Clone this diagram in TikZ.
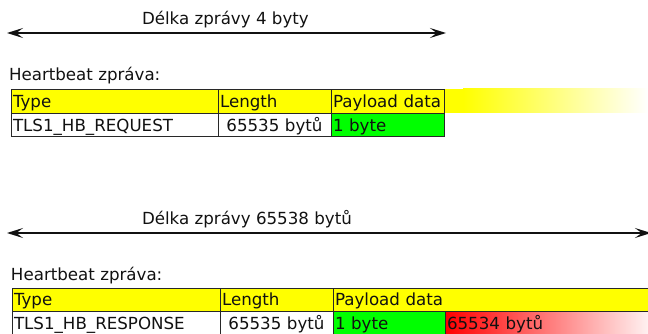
\documentclass[tikz,border=0pt]{standalone}
\usepackage{fontspec}
\setmainfont{DejaVu Sans}
\usetikzlibrary{arrows.meta}
\definecolor{hdr}{RGB}{255,255,0}
\definecolor{ok}{RGB}{0,255,0}
\definecolor{bad}{RGB}{255,0,0}
\definecolor{rule}{RGB}{40,40,40}
\definecolor{ink}{RGB}{17,17,17}
\begin{document}
\begin{tikzpicture}[x=0.75pt,y=-0.75pt,
  every node/.style={inner sep=0pt, outer sep=0pt,
    font=\fontsize{12.5}{14}\selectfont, text=ink},
  cell/.style={draw=rule, line width=0.75pt, anchor=north west,
    inner xsep=1.5pt, inner ysep=0pt, minimum height=17.6pt,
    text height=9pt, text depth=0pt, align=left},
  label/.style={anchor=base west},
  span arrow/.style={draw=ink, line width=1pt,
    {Stealth[length=12pt,width=7.5pt,inset=5pt]}-{Stealth[length=12pt,width=7.5pt,inset=5pt]}}
]
\useasboundingbox (0,0) rectangle (648,334);
\clip (0,0) rectangle (648,334);

% ---- request: total length
\node[label] (len1) at (142,25) {Délka zprávy 4 byty};
\coordinate (a1l) at (7,33);
\coordinate (a1r) at (446,33);
\draw[span arrow] (a1l) -- (a1r);

% ---- request message
\node[label] (hb1) at (9,81) {Heartbeat zpráva:};
\fill[hdr] (444,89) rectangle (463,113);
\shade[left color=hdr, right color=white] (463,89) rectangle (648,113);
\node[cell, fill=hdr, text width=152.25pt] (t1type) at (11,90) {Type};
\node[cell, fill=hdr, text width=81.75pt] (t1len) at (218,90) {Length};
\node[cell, fill=hdr, text width=81.75pt] (t1pay) at (331,90) {\mbox{Payload data}};
\node[cell, fill=white, text width=152.25pt] (t1typev) at (11,113.5) {TLS1\_HB\_REQUEST};
\node[cell, fill=white, text width=81.75pt, align=center] (t1lenv) at (218,113.5) {65535 bytů};
\node[cell, fill=ok, text width=81.75pt] (t1payv) at (331,113.5) {1 byte};

% ---- response: total length
\node[label] (len2) at (142,225) {Délka zprávy 65538 bytů};
\coordinate (a2l) at (7,233);
\coordinate (a2r) at (651,233);
\draw[span arrow] (a2l) -- (a2r);

% ---- response message
\node[label] (hb2) at (11,280) {Heartbeat zpráva:};
\node[cell, fill=hdr, text width=153pt] (t2type) at (12,288) {Type};
\node[cell, fill=hdr, text width=81.75pt] (t2len) at (220,288) {Length};
\node[cell, fill=hdr, text width=272.25pt] (t2pay) at (333,288) {Payload data};
\node[cell, fill=white, text width=153pt] (t2typev) at (12,311.5) {TLS1\_HB\_RESPONSE};
\node[cell, fill=white, text width=81.75pt, align=center] (t2lenv) at (220,311.5) {65535 bytů};
\node[cell, fill=ok, text width=81pt] (t2payv) at (333,311.5) {1 byte};
\node[cell, left color=bad, right color=white, text width=158.25pt] (t2rest) at (445,311.5) {65534 bytů};
\end{tikzpicture}
\end{document}
